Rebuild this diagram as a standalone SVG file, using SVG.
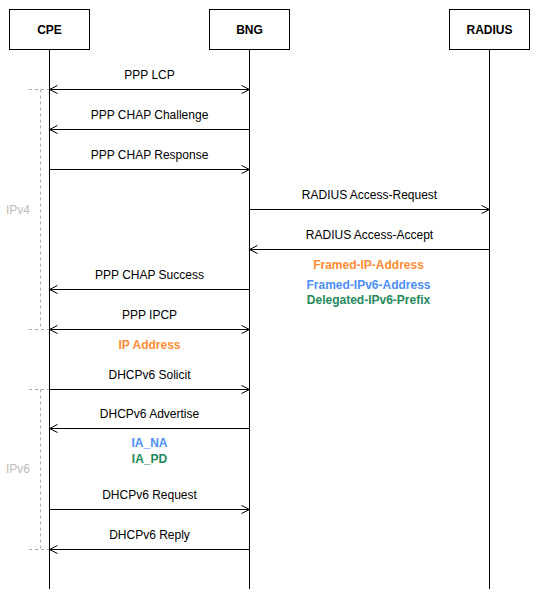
<svg xmlns="http://www.w3.org/2000/svg" width="539" height="595" viewBox="0 0 539 595">
<defs>
<style>
.box{fill:#fff;stroke:#000;stroke-width:1}
.life{stroke:#000;stroke-width:1;fill:none}
.msg{stroke:#000;stroke-width:1;fill:none}
.t{font-family:"Liberation Sans",Arial,sans-serif;font-size:12px;fill:#000;text-anchor:middle}
.b{font-weight:bold}
.or{fill:#FF8C33}
.bl{fill:#4D8FF5}
.gr{fill:#1F8A5B}
.gl{fill:#BBBBBB;font-size:12px}
.dash{stroke:#AAAAAA;stroke-width:1;stroke-dasharray:3 3;fill:none}
</style>
<marker id="ah" viewBox="0 0 10 10" refX="9" refY="5" markerWidth="10" markerHeight="10" markerUnits="userSpaceOnUse" orient="auto-start-reverse">
<path d="M1 1 L9 5 L1 9" fill="none" stroke="#000" stroke-width="1"/>
</marker>
</defs>
<rect width="539" height="595" fill="#fff"/>
<g id="cpe">
<rect class="box" x="9.5" y="9.5" width="80" height="40"/>
<text class="t b" x="49.5" y="33.5">CPE</text>
<line class="life" x1="49.5" y1="49.5" x2="49.5" y2="589"/>
</g>
<g id="bng">
<rect class="box" x="209.5" y="9.5" width="80" height="40"/>
<text class="t b" x="249.5" y="33.5">BNG</text>
<line class="life" x1="249.5" y1="49.5" x2="249.5" y2="589"/>
</g>
<g id="radius">
<rect class="box" x="449.5" y="9.5" width="80" height="40"/>
<text class="t b" x="489.5" y="33.5">RADIUS</text>
<line class="life" x1="489.5" y1="49.5" x2="489.5" y2="589"/>
</g>
<g id="ipv4-group">
<path class="dash" d="M29 89.5 H49 M40.5 89.5 V329.5 M29 329.5 H49"/>
<text class="t gl" x="18" y="214">IPv4</text>
</g>
<g id="ipv6-group">
<path class="dash" d="M29 389.5 H49 M40.5 389.5 V549.5 M29 549.5 H49"/>
<text class="t gl" x="18" y="472.5">IPv6</text>
</g>
<g id="connectors">
<line class="msg" x1="49.5" y1="89.5" x2="249.5" y2="89.5" marker-start="url(#ah)" marker-end="url(#ah)"/>
<line class="msg" x1="249.5" y1="129.5" x2="49.5" y2="129.5" marker-end="url(#ah)"/>
<line class="msg" x1="49.5" y1="169.5" x2="249.5" y2="169.5" marker-end="url(#ah)"/>
<line class="msg" x1="249.5" y1="209.5" x2="489.5" y2="209.5" marker-end="url(#ah)"/>
<line class="msg" x1="489.5" y1="249.5" x2="249.5" y2="249.5" marker-end="url(#ah)"/>
<line class="msg" x1="249.5" y1="289.5" x2="49.5" y2="289.5" marker-end="url(#ah)"/>
<line class="msg" x1="49.5" y1="329.5" x2="249.5" y2="329.5" marker-start="url(#ah)" marker-end="url(#ah)"/>
<line class="msg" x1="49.5" y1="389.5" x2="249.5" y2="389.5" marker-end="url(#ah)"/>
<line class="msg" x1="249.5" y1="428.5" x2="49.5" y2="428.5" marker-end="url(#ah)"/>
<line class="msg" x1="49.5" y1="509.5" x2="249.5" y2="509.5" marker-end="url(#ah)"/>
<line class="msg" x1="249.5" y1="549.5" x2="49.5" y2="549.5" marker-end="url(#ah)"/>
</g>
<g id="labels">
<text class="t" x="149.5" y="78.5">PPP LCP</text>
<text class="t" x="149.5" y="118.5">PPP CHAP Challenge</text>
<text class="t" x="149.5" y="158.5">PPP CHAP Response</text>
<text class="t" x="369.5" y="198.5">RADIUS Access-Request</text>
<text class="t" x="369.5" y="238.5">RADIUS Access-Accept</text>
<text class="t b or" x="368.5" y="269">Framed-IP-Address</text>
<text class="t b bl" x="368.5" y="289">Framed-IPv6-Address</text>
<text class="t b gr" x="368.5" y="303.5">Delegated-IPv6-Prefix</text>
<text class="t" x="149.5" y="278.5">PPP CHAP Success</text>
<text class="t" x="149.5" y="318.5">PPP IPCP</text>
<text class="t b or" x="149.5" y="348.5">IP Address</text>
<text class="t" x="149.5" y="378.5">DHCPv6 Solicit</text>
<text class="t" x="149.5" y="417.5">DHCPv6 Advertise</text>
<text class="t b bl" x="149.5" y="447">IA_NA</text>
<text class="t b gr" x="149.5" y="463">IA_PD</text>
<text class="t" x="149.5" y="498.5">DHCPv6 Request</text>
<text class="t" x="149.5" y="539">DHCPv6 Reply</text>
</g>
</svg>
